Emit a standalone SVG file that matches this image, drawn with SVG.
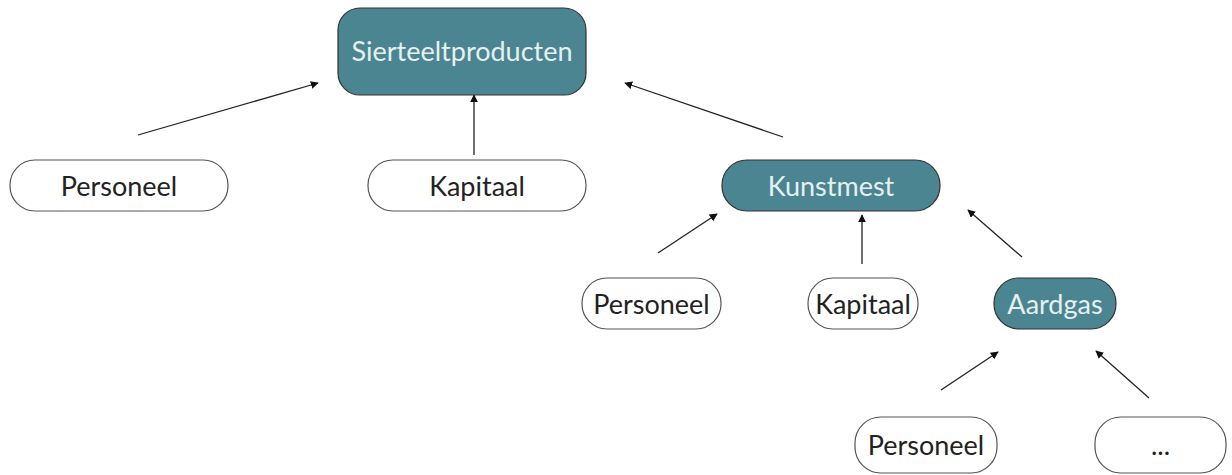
<svg xmlns="http://www.w3.org/2000/svg" width="1232" height="475" viewBox="0 0 1232 475">
<style>
.n rect{stroke:#555;stroke-width:1.2}
.w rect{fill:#fff}
.t rect{fill:#4a8591;stroke:#333}
text{font-family:Lato,"Open Sans",sans-serif;font-size:27px;text-anchor:middle;dominant-baseline:central}
.w text{fill:#222}
.t text{fill:#e6f0f1}
.c line{stroke:#222;stroke-width:1.3;marker-end:url(#a)}
</style>
<defs>
<marker id="a" viewBox="0 0 10 10" refX="9" refY="5" markerWidth="8" markerHeight="8" markerUnits="userSpaceOnUse" orient="auto">
<path d="M0,0L10,5L0,10z" fill="#111"/>
</marker>
</defs>
<rect width="1232" height="475" fill="#fff"/>
<g class="c">
<line x1="138" y1="135" x2="318" y2="83"/>
<line x1="474" y1="155" x2="474" y2="95"/>
<line x1="783" y1="137" x2="625" y2="83"/>
<line x1="658" y1="253" x2="717" y2="214"/>
<line x1="862" y1="264" x2="862" y2="215"/>
<line x1="1022" y1="257" x2="968" y2="210"/>
<line x1="941" y1="390" x2="998" y2="352"/>
<line x1="1149" y1="398" x2="1096" y2="351"/>
</g>
<g id="sierteelt" class="n t"><rect x="338" y="8" width="248" height="87" rx="22"/><text x="462" y="50">Sierteeltproducten</text></g>
<g id="personeel1" class="n w"><rect x="10" y="160" width="218" height="51" rx="25"/><text x="119" y="185">Personeel</text></g>
<g id="kapitaal1" class="n w"><rect x="368" y="160" width="218" height="51" rx="25"/><text x="477" y="185">Kapitaal</text></g>
<g id="kunstmest" class="n t"><rect x="722" y="160" width="218" height="51" rx="25"/><text x="831" y="185">Kunstmest</text></g>
<g id="personeel2" class="n w"><rect x="582" y="278" width="139" height="51" rx="25"/><text x="651.5" y="303">Personeel</text></g>
<g id="kapitaal2" class="n w"><rect x="808" y="278" width="110" height="51" rx="25"/><text x="863" y="303">Kapitaal</text></g>
<g id="aardgas" class="n t"><rect x="994" y="278" width="122" height="51" rx="25"/><text x="1055" y="303">Aardgas</text></g>
<g id="personeel3" class="n w"><rect x="855" y="417" width="142" height="56" rx="26"/><text x="926" y="444">Personeel</text></g>
<g id="dots" class="n w"><rect x="1095" y="417" width="131" height="56" rx="26"/><text x="1160.5" y="444">...</text></g>
</svg>
